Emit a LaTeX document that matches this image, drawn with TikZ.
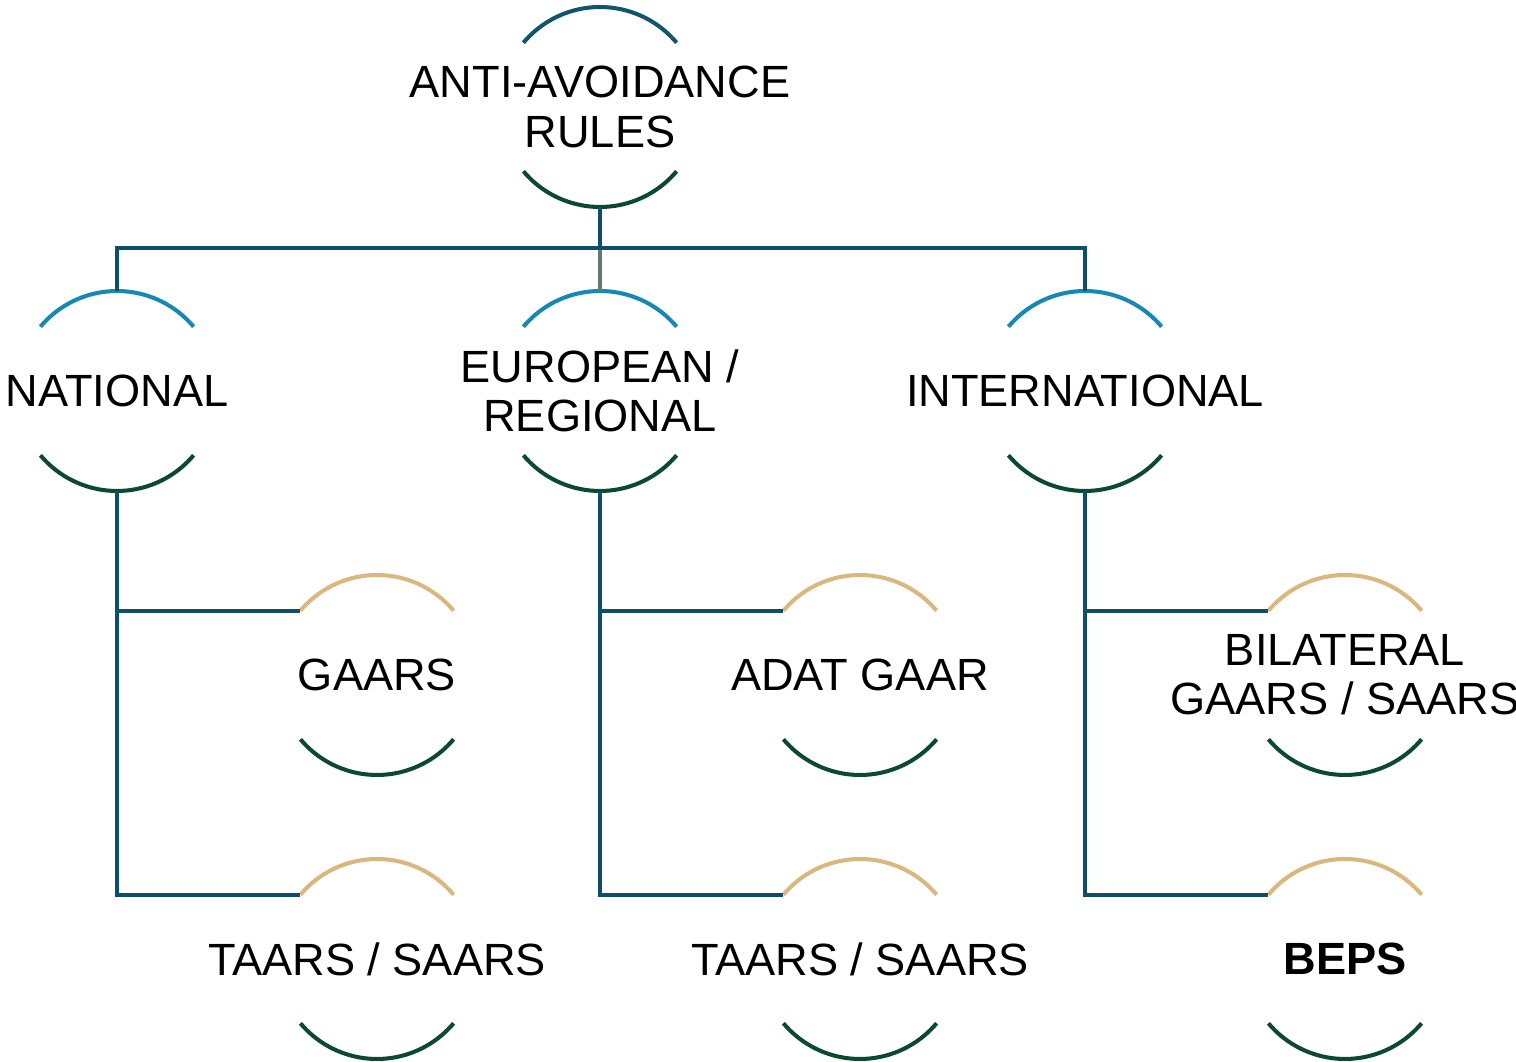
\documentclass[tikz,border=0pt]{standalone}
\usepackage{fontspec}
\setmainfont{Liberation Sans}
\definecolor{linkteal}{RGB}{13,79,104}
\definecolor{linkgrey}{RGB}{96,122,110}
\definecolor{rootteal}{RGB}{16,84,110}
\definecolor{lightblue}{RGB}{22,136,180}
\definecolor{tan}{RGB}{217,183,126}
\definecolor{darkgreen}{RGB}{12,74,48}
\begin{document}
\begin{tikzpicture}[x=0.02cm,y=0.02cm]
	\tikzstyle{every node}+=[inner sep=0pt]
	\tikzstyle{ring}=[circle, minimum size=4cm, outer sep=0pt]
	\tikzstyle{ringtext}=[align=center, font=\fontsize{25.7}{28}\selectfont]
	\tikzstyle{link}=[draw=linkteal, line width=2.3pt]
	\tikzstyle{arcline}=[line width=2.3pt]
	\useasboundingbox (0,0) rectangle (1516,1062);
	\node [ring, label={[ringtext]center:ANTI-AVOIDANCE\\RULES}] (root) at (600,955) {};
	\node [ring, label={[ringtext]center:NATIONAL}] (nat) at (117,671) {};
	\node [ring, label={[ringtext]center:EUROPEAN /\\REGIONAL}] (eur) at (600,671) {};
	\node [ring, label={[ringtext]center:INTERNATIONAL}] (int) at (1085,671) {};
	\node [ring, label={[ringtext]center:GAARS}] (gaars) at (377,387) {};
	\node [ring, label={[ringtext]center:ADAT GAAR}] (adat) at (860,387) {};
	\node [ring, label={[ringtext]center:BILATERAL\\GAARS / SAARS}] (bilat) at (1345,387) {};
	\node [ring, label={[ringtext]center:TAARS / SAARS}] (taarsa) at (377,103) {};
	\node [ring, label={[ringtext]center:TAARS / SAARS}] (taarsb) at (860,103) {};
	\node [ring, label={[ringtext]center:\bfseries BEPS}] (beps) at (1345,103) {};
	\draw [arcline, rootteal] (root.40) arc (40:140:2cm);
	\foreach \n in {nat,eur,int}
		\draw [arcline, lightblue] (\n.40) arc (40:140:2cm);
	\foreach \n in {gaars,adat,bilat,taarsa,taarsb,beps}
		\draw [arcline, tan] (\n.40) arc (40:140:2cm);
	\foreach \n in {root,nat,eur,int,gaars,adat,bilat,taarsa,taarsb,beps}
		\draw [arcline, darkgreen] (\n.220) arc (220:320:2cm);
	\coordinate (bus) at (600,814);
	\draw [link, draw=linkgrey] (bus) -- (eur.north);
	\draw [link] (root.south) -- (bus);
	\draw [link] (nat.north) |- (bus) -| (int.north);
	\draw [link] (nat.south) |- (taarsa.140);
	\draw [link] (nat.south |- gaars.140) -- (gaars.140);
	\draw [link] (eur.south) |- (taarsb.140);
	\draw [link] (eur.south |- adat.140) -- (adat.140);
	\draw [link] (int.south) |- (beps.140);
	\draw [link] (int.south |- bilat.140) -- (bilat.140);
\end{tikzpicture}
\end{document}
